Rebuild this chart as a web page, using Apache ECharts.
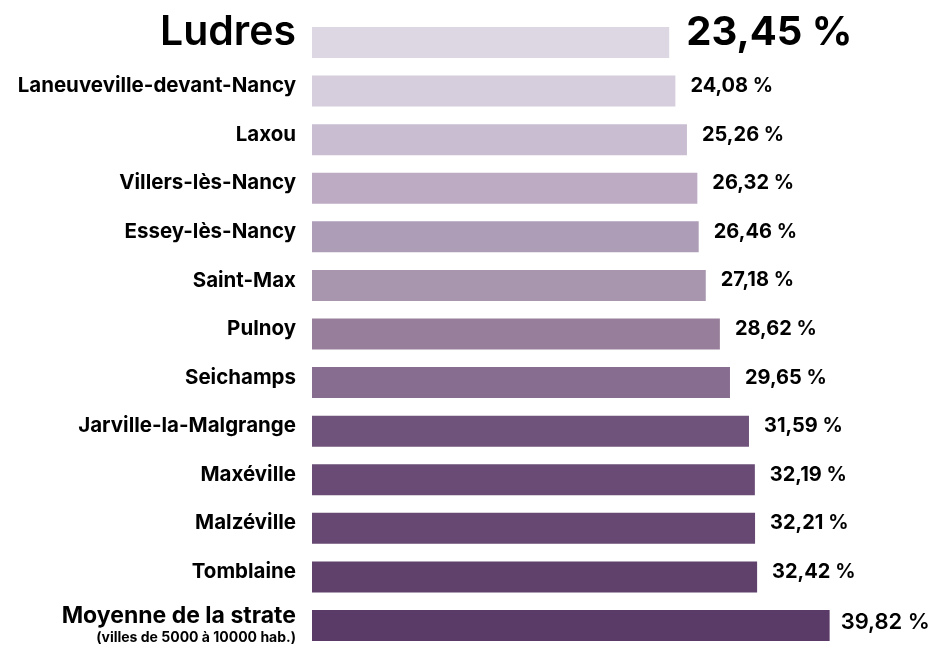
<!DOCTYPE html>
<html>
<head>
<meta charset="utf-8">
<script src="https://cdn.jsdelivr.net/npm/echarts@6/dist/echarts.min.js"></script>
<style>
  html, body { margin: 0; padding: 0; background: #fff; }
  #chart { width: 934px; height: 653px; }
</style>
</head>
<body>
<div id="chart"></div>
<script>
const communes = ['Ludres', 'Laneuveville-devant-Nancy', 'Laxou', 'Villers-lès-Nancy', 'Essey-lès-Nancy',
  'Saint-Max', 'Pulnoy', 'Seichamps', 'Jarville-la-Malgrange', 'Maxéville', 'Malzéville', 'Tomblaine',
  'Moyenne de la strate'];
const taux = [23.45, 24.08, 25.26, 26.32, 26.46, 27.18, 28.62, 29.65, 31.59, 32.19, 32.21, 32.42, 39.82];
const sousTitre = '(villes de 5000 à 10000 hab.)';

const barColors = ['#ddd7e3', '#d6cedd', '#c9bdd1', '#bcabc3', '#ae9db7', '#a895ae', '#977f9b',
  '#876d8f', '#70537a', '#694b76', '#674872', '#5f416c', '#5a3a66'];

const fmt = v => v.toFixed(2).replace('.', ',') + ' %';
const last = communes.length - 1;

const chart = echarts.init(document.getElementById('chart'));
chart.setOption({
  animation: false,
  textStyle: { fontFamily: 'Inter', color: '#000' },
  grid: { left: 312, right: 4.6, top: 18.2, bottom: 3.2 },
  xAxis: {
    type: 'value',
    min: -13,
    max: 50,
    startValue: -13,
    show: false
  },
  yAxis: {
    type: 'category',
    inverse: true,
    data: communes,
    axisLine: { show: false },
    axisTick: { show: false },
    axisLabel: {
      margin: 16,
      formatter(val, i) {
        if (i === 0) return '{big|' + val + '}';
        if (i === last) return '{moy|' + val + '}\n{sub|' + sousTitre + '}';
        return '{norm|' + val + '}';
      },
      rich: {
        big: { fontSize: 41, fontWeight: 600, color: '#000', padding: [0, 0, 20, 0] },
        norm: { fontSize: 20.5, fontWeight: 700, color: '#000', letterSpacing: 0.3, padding: [0, 0, 10, 0] },
        moy: { fontSize: 23, fontWeight: 700, color: '#000', letterSpacing: -0.9, lineHeight: 24 },
        sub: { fontSize: 14, fontWeight: 700, color: '#000', letterSpacing: -0.3, lineHeight: 19 }
      }
    }
  },
  series: [{
    type: 'bar',
    barWidth: 31,
    data: taux.map((v, i) => {
      const item = { value: v, itemStyle: { color: barColors[i] } };
      if (i === 0) item.label = { fontSize: 40, offset: [2, -10] };
      if (i === last) item.label = { fontSize: 22, fontWeight: 600, offset: [-4, -3] };
      return item;
    }),
    label: {
      show: true,
      position: 'right',
      distance: 15,
      fontFamily: 'Inter',
      fontSize: 20,
      fontWeight: 700,
      color: '#000',
      offset: [0, -5],
      formatter: p => fmt(p.value)
    }
  }]
});
</script>
</body>
</html>
